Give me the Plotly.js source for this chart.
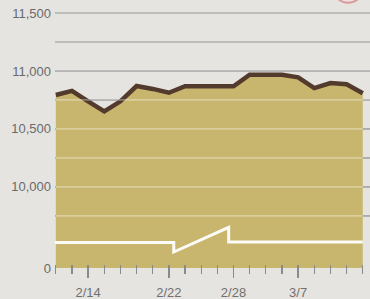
<!DOCTYPE html>
<html>
<head>
<meta charset="utf-8">
<script src="https://cdn.plot.ly/plotly-3.0.1.min.js"></script>
<style>
  html, body { margin: 0; padding: 0; background: #e6e4e0; }
  #chart { width: 370px; height: 299px; }
</style>
</head>
<body>
<div id="chart"></div>
<script>
// Trading-day index along the x axis
const dayIndex = [0,1,2,3,4,5,6,7,8,9,10,11,12,13,14,15,16,17,18,19];
// Index closing values
const closeValues = [10793,10828,10738,10652,10738,10870,10845,10812,10868,10866,10862,10868,10968,10972,10968,10945,10852,10895,10885,10808];
// Labelled x ticks
const xTickIndex = [2, 7, 11, 15];
const xTickText = ['2/14', '2/22', '2/28', '3/7'];
// y axis labels (bottom of the broken axis is labelled 0)
const yTickVals = [9300, 10000, 10500, 11000, 11500];
const yTickText = ['0', '10,000', '10,500', '11,000', '11,500'];
const gridLevels = [9750, 10000, 10250, 10500, 10750, 11000, 11250, 11500];

const FILL = 'rgb(200,182,110)';
const LINE = 'rgb(82,58,44)';
const BG = '#e6e4e0';

const trace = {
  x: dayIndex,
  y: closeValues,
  type: 'scatter',
  mode: 'lines',
  line: { color: LINE, width: 4.5, shape: 'linear' },
  fill: 'tozeroy',
  fillcolor: FILL,
  hoverinfo: 'skip'
};

const shapes = [];
gridLevels.forEach(v => {
  shapes.push({ type: 'line', xref: 'paper', yref: 'y', x0: 0, x1: 1.02, y0: v, y1: v,
    line: { color: '#858585', width: 1.6 }, layer: 'below' });
  shapes.push({ type: 'line', xref: 'paper', yref: 'y', x0: 0, x1: 1.02, y0: v, y1: v,
    line: { color: 'rgba(255,255,255,0.32)', width: 1.8 }, layer: 'above' });
});
// axis break symbol
shapes.push({
  type: 'path', xref: 'x', yref: 'y', layer: 'above',
  path: 'M -0.05,9520 L 7.3,9520 L 7.3,9438 L 10.7,9650 L 10.7,9525 L 19.0,9525',
  line: { color: 'rgba(255,255,255,0.95)', width: 3 }
});
// partial red logo circle at the top right
shapes.push({
  type: 'circle', xref: 'paper', yref: 'paper', x0: 0.90, x1: 0.985, y0: 0.997, y1: 1.08,
  line: { color: 'rgba(215,90,100,0.55)', width: 2 }
});

const layout = {
  width: 370, height: 299,
  margin: { l: 55, r: 4, t: 2, b: 31 },
  paper_bgcolor: BG,
  plot_bgcolor: BG,
  showlegend: false,
  font: { family: 'Liberation Sans, Arial, sans-serif', size: 13, color: '#6e6e6e' },
  xaxis: {
    range: [-0.05, 19.2],
    showgrid: false, zeroline: false, showline: false,
    anchor: 'free', position: 0.015,
    tickmode: 'array', tickvals: xTickIndex, ticktext: xTickText,
    ticks: 'outside', ticklen: 13, tickwidth: 1.5, tickcolor: '#8a8a8a',
    ticklabelstandoff: 3,
    minor: { tickvals: dayIndex, ticks: 'outside', ticklen: 9, tickwidth: 1.3, tickcolor: '#8a8a8a', showgrid: false },
    tickfont: { size: 13, color: '#707070' },
    fixedrange: true
  },
  yaxis: {
    range: [9300, 11595],
    showgrid: false, zeroline: false, showline: false,
    tickmode: 'array', tickvals: yTickVals, ticktext: yTickText,
    ticks: '', ticklabelstandoff: 3,
    tickfont: { size: 13, color: '#6a6a6a' },
    fixedrange: true
  },
  shapes: shapes
};

Plotly.newPlot('chart', [trace], layout, { displayModeBar: false, staticPlot: true });
</script>
</body>
</html>
